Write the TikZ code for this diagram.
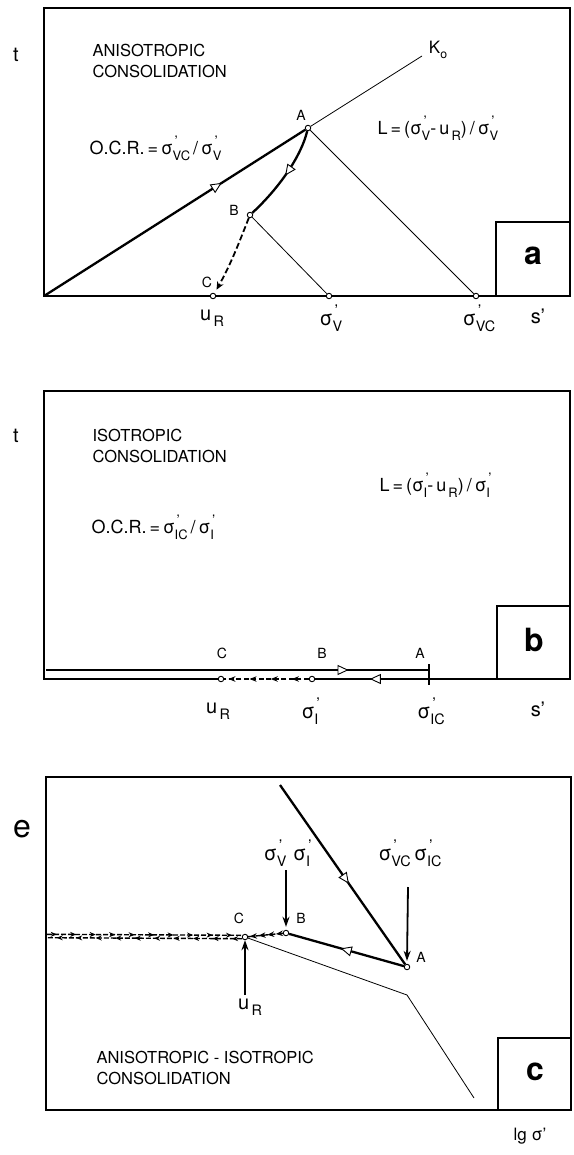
\documentclass[tikz,border=0pt]{standalone}
\usepackage{fontspec}
\setmainfont{TeX Gyre Heros}
\usetikzlibrary{arrows.meta,decorations.markings}

\newcommand{\sgm}[1]{σ\rlap{\kern0.1em\raisebox{0.45em}{\scalebox{0.8}{’}}}\raisebox{-0.32em}{\scalebox{0.72}{#1}}}
\newcommand{\uR}{u\kern0.12em\raisebox{-0.32em}{\scalebox{0.72}{R}}}

\begin{document}
\begin{tikzpicture}[x=1pt, y=-1pt,
    frame/.style={line width=1.1pt},
    stress/.style={line width=0.8pt},
    route/.style={line width=2.3pt},
    pt/.style={circle, draw, fill=white, inner sep=0pt, minimum size=5.5pt, line width=0.9pt},
    ptlabel/.style={font=\fontsize{14}{16}\selectfont},
    axlabel/.style={font=\fontsize{20}{22}\selectfont},
    note/.style={font=\fontsize{16.5}{21}\selectfont, align=left, anchor=west},
    formula/.style={font=\fontsize{18}{21}\selectfont, anchor=west},
    panel/.style={font=\fontsize{32}{34}\selectfont\bfseries},
    tri/.style={postaction={decorate}, decoration={markings, mark=at position #1 with {\arrow{Triangle[fill=white, length=11pt, width=10pt, line width=0.9pt]}}}},
    flow/.style={dash pattern=on 5pt off 2.5pt, line width=1.4pt, postaction={decorate}, decoration={markings, mark=between positions 0.2 and 1 step 0.25 with {\arrow{Stealth[length=7pt, width=5.5pt]}}}},
    both/.style={dash pattern=on 5pt off 2pt, line width=1.4pt, postaction={decorate}, decoration={markings, mark=between positions 0.05 and 1 step 0.1 with {\arrow{Stealth[length=6pt, width=5pt]}}}},
    pointer/.style={line width=1.8pt, -{Stealth[length=10pt, width=7pt]}}
]
\useasboundingbox (0,0) rectangle (573,1155);

% Panel a
\draw[frame] (44,8) rectangle (570,296);
\draw[frame] (496,222) rectangle (570,296);
\node[panel] (labA) at (533,256) {a};
\node[font=\fontsize{20}{22}\selectfont] (ta) at (16,55) {t};
\node[note] (titleA) at (89,61) {ANISOTROPIC\\CONSOLIDATION};
\node[formula] (ocrA) at (86,148) {O.C.R.\,=\,\sgm{VC}\,/\,\sgm{V}};
\node[formula] (lA) at (374,128) {L\,=\,(\sgm{V}-\,\uR)\,/\,\sgm{V}};

\coordinate (aO) at (44,296);
\coordinate (aK) at (422,56);
\node[pt] (aA) at (308,128) {};
\node[pt] (aB) at (250,215) {};
\node[pt] (aC) at (213,296) {};
\node[pt] (aV) at (329,296) {};
\node[pt] (aVC) at (476,296) {};
\node[font=\fontsize{17}{19}\selectfont] (aKlbl) at (438,50) {K\raisebox{-0.3em}{\scalebox{0.72}{o}}};
\node[ptlabel] (aAlbl) at (301,115) {A};
\node[ptlabel] (aBlbl) at (234,210) {B};
\node[ptlabel] (aClbl) at (207,282) {C};

\draw[stress] (aA) -- (aK);
\draw[stress] (aA) -- (aVC);
\draw[stress] (aB) -- (aV);
\draw[route, tri=0.68] (aO) -- (aA);
\draw[route, tri=0.5] (aA) .. controls (300,160) and (275,192) .. (aB);
\draw[dash pattern=on 6pt off 3pt, line width=1.8pt, -{Stealth[length=8pt, width=7pt]}, shorten >=4pt] (aB) .. controls (240,240) and (232,262) .. (aC);

\node[axlabel] (aUr) at (212,318) {\uR};
\node[axlabel] (aSv) at (331,318) {\sgm{V}};
\node[axlabel] (aSvc) at (479,318) {\sgm{VC}};
\node[axlabel] (aS) at (538,316) {s’};

% Panel b
\node[pt] (bC) at (221,679) {};
\node[pt] (bB) at (312,679) {};
\draw[frame] (bC.west) -- (44,679) -- (44,391) -- (570,391) -- (570,679) -- (bB.east);
\draw[frame] (497,606) rectangle (570,679);
\node[panel] (labB) at (534,640) {b};
\node[font=\fontsize{20}{22}\selectfont] (tb) at (16,436) {t};
\node[note] (titleB) at (89,446) {ISOTROPIC\\CONSOLIDATION};
\node[formula] (ocrB) at (88,527) {O.C.R.\,=\,\sgm{IC}\,/\,\sgm{I}};
\node[formula] (lB) at (376,485) {L\,=\,(\sgm{I}-\,\uR)\,/\,\sgm{I}};

\coordinate (bS) at (46,670);
\coordinate (bAu) at (429,670);
\coordinate (bAl) at (429,679);
\coordinate (bAt) at (429,664);
\coordinate (bAb) at (429,685);
\node[ptlabel] (bClbl) at (222,653) {C};
\node[ptlabel] (bBlbl) at (322,653) {B};
\node[ptlabel] (bAlbl) at (420,653) {A};

\draw[route, line width=2pt, tri=0.79] (bS) -- (bAu);
\draw[route, line width=2pt, tri=0.52] (bAl) -- (bB);
\draw[line width=2pt] (bAt) -- (bAb);
\draw[flow] (bB) -- (bC);

\node[axlabel] (bUr) at (218,711) {\uR};
\node[axlabel] (bSi) at (310,711) {\sgm{I}};
\node[axlabel] (bSic) at (431,711) {\sgm{IC}};
\node[axlabel] (bS2) at (538,709) {s’};

% Panel c
\draw[frame] (46,777) rectangle (571,1110);
\draw[frame] (498,1038) rectangle (571,1110);
\node[panel] (labC) at (535,1072) {c};
\node[font=\fontsize{32}{34}\selectfont] (ec) at (22,829) {e};
\node[note] (titleC) at (93,1068) {ANISOTROPIC - ISOTROPIC\\CONSOLIDATION};

\coordinate (cTop) at (280,785);
\coordinate (cK) at (407,995);
\coordinate (cEnd) at (474,1098);
\coordinate (cL) at (47,936);
\node[pt] (cA) at (407,967) {};
\node[pt] (cB) at (286,933) {};
\node[pt] (cC) at (245,937) {};
\node[ptlabel] (cAlbl) at (421,957) {A};
\node[ptlabel] (cBlbl) at (301,918) {B};
\node[ptlabel] (cClbl) at (239,918) {C};

\draw[stress] (cC) -- (cK) -- (cEnd);
\draw[route, tri=0.55] (cTop) -- (cA);
\draw[route, tri=0.55] (cA) -- (cB);
\draw[flow] (cB) -- (cC);
\draw[both] ([yshift=1.7pt]cL) -- ([yshift=1.7pt]cC.west);
\draw[both] ([yshift=-1.7pt]cC.west) -- ([yshift=-1.7pt]cL);

\node[axlabel] (cSv) at (287,853) {\sgm{V}\,\,\sgm{I}};
\node[axlabel] (cSvc) at (410,853) {\sgm{VC}\,\sgm{IC}};
\node[axlabel] (cUr) at (250,1007) {\uR};
\draw[pointer] (286,870) -- ([yshift=3pt]cB.north);
\draw[pointer] (408,887) -- ([yshift=3pt]cA.north);
\draw[pointer] (cUr.north -| cC) -- (cC.south);

\node[font=\fontsize{17}{19}\selectfont] (lg) at (530,1136) {lg σ’};
\end{tikzpicture}
\end{document}
